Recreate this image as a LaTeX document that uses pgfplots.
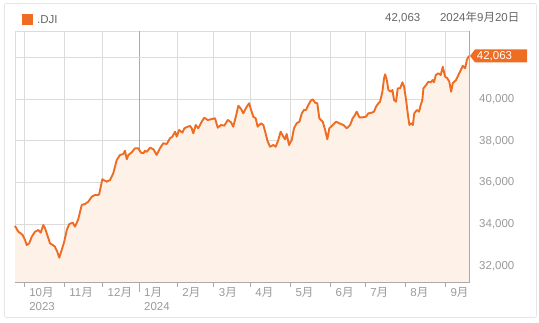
\documentclass[border=0pt]{standalone}
\usepackage{pgfplots}
\pgfplotsset{compat=1.18}
\usepackage{pgfplotstable}
\usepackage{fontspec}
\setmainfont{Liberation Sans}
\newfontfamily\cjk{Noto Sans CJK JP}
\newcommand\tsuki{{\cjk 月}}
\newcommand\tsize{\fontsize{11.5bp}{14bp}\selectfont}
\definecolor{lineor}{HTML}{EF6C23}
\definecolor{fillor}{HTML}{FEF1E8}
\definecolor{gridc}{HTML}{DCDCDC}
\definecolor{axc}{HTML}{AAAAAA}
\definecolor{labc}{HTML}{9A9A9A}
\definecolor{txtc}{HTML}{666666}
\pgfplotstableread{
x y
0 33920
1.8 33644
3.1 33567
4.2 33486
5.5 33246
6.4 33007
7.8 33088
9.2 33404
11.0 33644
12.8 33725
14.1 33596
15.5 33965
16.5 33807
17.7 33486
19.2 33088
20.7 33007
21.9 32925
23.2 32686
24.3 32398
25.6 32767
27.0 33165
28.4 33725
29.8 34012
31.7 34075
32.9 33883
34.7 34238
36.6 34923
38.4 34970
40.2 35081
42.1 35320
43.9 35402
45.7 35402
46.2 35449
47.9 36154
50.3 36039
52.1 36120
53.9 36441
55.8 37078
57.6 37318
59.4 37365
60.3 37524
61.3 37112
62.2 37318
64.0 37447
65.8 37639
67.6 37639
69.1 37428
70.4 37399
71.3 37524
72.2 37461
74.1 37667
75.9 37591
77.7 37318
79.5 37639
81.3 37878
83.2 37844
85.0 38118
86.3 38194
87.8 38434
88.7 38194
90.0 38515
91.8 38386
92.9 38597
94.7 38673
96.0 38707
96.9 38597
97.8 38357
99.1 38755
100.5 38597
102.4 38913
103.8 39104
105.7 38994
107.5 39028
109.7 39076
111.2 38625
113.0 38755
114.8 38721
116.7 38994
118.5 38884
119.7 38673
121.1 39152
122.5 39679
124.0 39521
125.2 39315
127.1 39631
128.4 39794
129.5 39473
130.7 39152
132.0 39076
133.1 38673
134.9 38836
136.2 38755
137.1 38467
138.6 37955
139.9 37715
141.7 37797
143.0 37715
144.4 38036
145.7 38434
147.2 38194
148.1 38070
149.0 38323
150.3 37797
151.8 38036
153.0 38597
154.5 38836
156.0 38913
157.3 39315
158.5 39473
159.6 39473
160.9 39713
162.2 39919
163.3 39986
164.6 39823
165.8 39794
166.9 39076
168.8 38913
170.1 38515
171.3 38070
172.4 38597
174.3 38755
176.1 38913
177.9 38836
180.1 38755
182.0 38597
183.8 38755
185.2 39076
186.5 39234
187.4 39392
188.9 39123
190.7 39123
192.5 39152
193.8 39315
195.7 39344
196.9 39392
198.0 39631
199.3 39794
200.2 39871
201.5 40350
202.4 40992
203.0 41183
203.9 40910
204.8 40431
206.1 40350
207.0 40431
207.9 39952
209.0 39871
209.9 40513
211.2 40513
212.5 40800
213.4 40589
214.5 39952
215.4 39315
216.3 38755
217.2 38836
218.2 38755
219.0 39315
220.4 39473
221.6 39392
222.5 39713
223.4 39952
224.0 40513
225.5 40671
226.7 40829
228.0 40800
229.1 40910
229.8 40800
230.8 41150
232.2 41231
233.5 41150
234.6 41547
235.9 41068
237.1 40992
238.2 40829
239.2 40350
240.1 40752
241.9 40910
243.2 41150
244.5 41389
245.6 41595
246.9 41470
247.8 41868
248.7 42026
249 42063
}\dji
\begin{document}
\begin{tikzpicture}[x=1bp,y=1bp]
\path (0,0) rectangle (539,322);
\draw[color=gridc!70, line width=0.8bp, rounded corners=2bp] (4.5,4.5) rectangle (536.5,318.5);
% legend and header
\fill[lineor] (22,297) rectangle (33,308);
\node[anchor=west, inner sep=0pt, text=txtc, font=\tsize] at (37,302.5) {.DJI};
\node[anchor=east, inner sep=0pt, text=txtc, font=\tsize] at (420.5,304) {42,063};
\node[anchor=east, inner sep=0pt, text=txtc, font=\tsize] at (519.5,304.5) {2024{\cjk 年}9{\cjk 月}20{\cjk 日}};
\begin{axis}[
  at={(15bp,40bp)}, anchor=south west,
  scale only axis, width=454bp, height=251bp,
  xmin=0, xmax=249, ymin=31234, ymax=43257,
  clip=false,
  axis line style={draw=gridc, line width=0.8bp},
  grid=major, grid style={draw=gridc, line width=0.8bp},
  xtick={5,27,48,89,109,129,151,173,192,214,236},
  xticklabels={10\tsuki\\2023,11\tsuki,12\tsuki,2\tsuki,3\tsuki,4\tsuki,5\tsuki,6\tsuki,7\tsuki,8\tsuki,9\tsuki},
  extra x ticks={68},
  extra x tick labels={1\tsuki\\2024},
  extra x tick style={grid style={draw=axc, line width=0.8bp}, major tick length=10bp,
    x tick label style={yshift=5bp}},
  xtick pos=bottom, tick align=outside,
  x tick style={draw=axc, line width=0.8bp},
  major tick length=5bp,
  x tick label style={anchor=north west, align=left, inner sep=0pt, xshift=5bp, yshift=-0.5bp, text=labc, font=\tsize},
  ytick={32000,34000,36000,38000,40000},
  extra y ticks={42000}, extra y tick labels={},
  yticklabel pos=right,
  y tick style={draw=none},
  y tick label style={anchor=west, inner sep=0pt, xshift=5bp, text=labc, font=\tsize,
    /pgf/number format/1000 sep={,}, /pgf/number format/assume math mode=true},
  scaled y ticks=false,
]
\addplot[fill=fillor, draw=none] table[x=x,y=y] {\dji} \closedcycle;
\addplot[draw=lineor, line width=1.9bp, line join=round] table[x=x,y=y] {\dji};
\draw[axc, line width=0.8bp] (rel axis cs:0,0) -- (rel axis cs:1,0) -- (rel axis cs:1,1);
\fill[lineor] ([xshift=1bp]axis cs:249,42063) -- ++(5bp,6.5bp) -- ++(52bp,0bp) -- ++(0bp,-13bp) -- ++(-52bp,0bp) -- cycle;
\node[anchor=center, inner sep=0pt, text=white, font=\tsize] at ([xshift=25.5bp]axis cs:249,42063) {42,063};
\end{axis}
\end{tikzpicture}
\end{document}
